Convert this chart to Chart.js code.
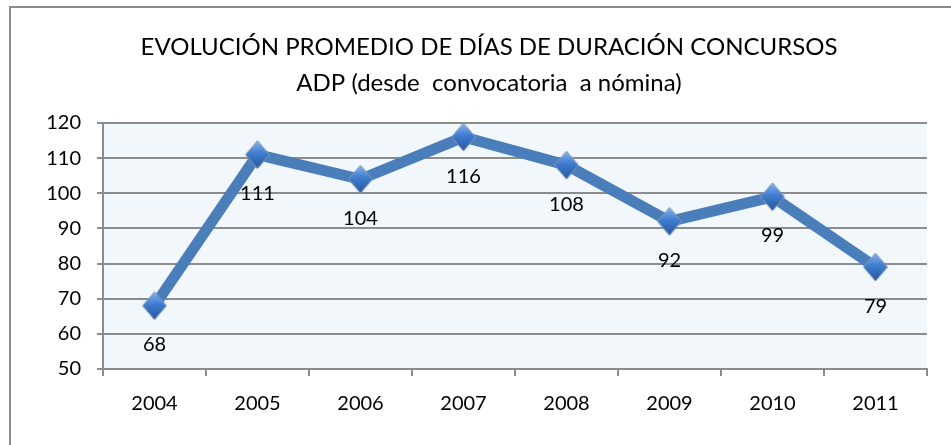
<!DOCTYPE html>
<html>
<head>
<meta charset="utf-8">
<script src="https://cdn.jsdelivr.net/npm/chart.js@4/dist/chart.umd.min.js"></script>
<style>
  html, body { margin: 0; padding: 0; background: #fff; }
  #wrap { width: 951px; height: 445px; position: relative; }
</style>
</head>
<body>
<div id="wrap"><canvas id="myChart" width="951" height="445"></canvas></div>
<script>
const years = ['2004', '2005', '2006', '2007', '2008', '2009', '2010', '2011'];
const avgDays = [68, 111, 104, 116, 108, 92, 99, 79];
const titleLines = ['EVOLUCIÓN PROMEDIO DE DÍAS DE DURACIÓN CONCURSOS', 'ADP (desde  convocatoria  a nómina)'];
const yMin = 50, yMax = 120, yStep = 10;

const FONT = 'Lato, "Open Sans", sans-serif';

// diamond marker drawn once on a small canvas
function makeMarker() {
  var c = document.createElement('canvas');
  c.width = 26; c.height = 30;
  var g = c.getContext('2d');
  g.beginPath();
  g.moveTo(13, 1); g.lineTo(25, 15); g.lineTo(13, 29); g.lineTo(1, 15); g.closePath();
  var grad = g.createLinearGradient(0, 1, 0, 29);
  grad.addColorStop(0, '#86b4ee');
  grad.addColorStop(0.45, '#3f7dd0');
  grad.addColorStop(1, '#24569c');
  g.fillStyle = grad;
  g.fill();
  g.lineWidth = 1;
  g.strokeStyle = '#8a9bb0';
  g.stroke();
  return c;
}

// outer frame + plot background
const framePlugin = {
  id: 'frame',
  beforeDraw(chart) {
    const c = chart.ctx, a = chart.chartArea;
    c.save();
    c.fillStyle = '#f2f7fb';
    c.fillRect(a.left, a.top, a.right - a.left, a.bottom - a.top);
    c.strokeStyle = '#8c8c8c';
    c.lineWidth = 2;
    c.strokeRect(10, 7, 1000, 1000);
    c.restore();
  }
};

// value labels under each point
const valueLabels = {
  id: 'valueLabels',
  afterDatasetsDraw(chart) {
    const c = chart.ctx;
    const meta = chart.getDatasetMeta(0);
    c.save();
    c.font = '20px ' + FONT;
    c.fillStyle = '#000';
    c.textAlign = 'center';
    c.textBaseline = 'middle';
    meta.data.forEach(function(pt, i) {
      c.fillText(String(chart.data.datasets[0].data[i]), pt.x, pt.y + 39);
    });
    c.restore();
  }
};

var ctx = document.getElementById('myChart');
var myChart = new Chart(ctx, {
  type: 'line',
  data: {
    labels: years,
    datasets: [{
      label: 'Promedio días',
      data: avgDays,
      borderColor: '#4a7ebb',
      backgroundColor: '#4a7ebb',
      borderWidth: 11,
      borderJoinStyle: 'round',
      fill: false,
      tension: 0,
      pointStyle: makeMarker(),
      radius: 13
    }]
  },
  plugins: [framePlugin, valueLabels],
  options: {
    responsive: false,
    animation: false,
    layout: { padding: { left: 38, right: 11, top: 29, bottom: 0 } },
    plugins: {
      legend: { display: false },
      tooltip: { enabled: false },
      title: {
        display: true,
        text: titleLines,
        color: '#000',
        font: { family: FONT, size: 24, weight: 'normal', lineHeight: 1.5 },
        padding: { top: 0, bottom: 22 }
      }
    },
    scales: {
      x: {
        offset: true,
        grid: { offset: true, drawOnChartArea: false, color: '#8c8c8c', lineWidth: 2, tickLength: 7 },
        border: { color: '#8c8c8c', width: 2 },
        ticks: { color: '#000', font: { family: FONT, size: 20 }, padding: 16, maxRotation: 0 },
        afterFit(s) { s.height = 76; }
      },
      y: {
        min: yMin,
        max: yMax,
        grid: { color: '#8c8c8c', lineWidth: 2, tickLength: 6 },
        border: { color: '#8c8c8c', width: 2 },
        ticks: { stepSize: yStep, color: '#000', font: { family: FONT, size: 20 }, padding: 16 },
        afterFit(s) { s.width = 65; }
      }
    }
  }
});
</script>
</body>
</html>
